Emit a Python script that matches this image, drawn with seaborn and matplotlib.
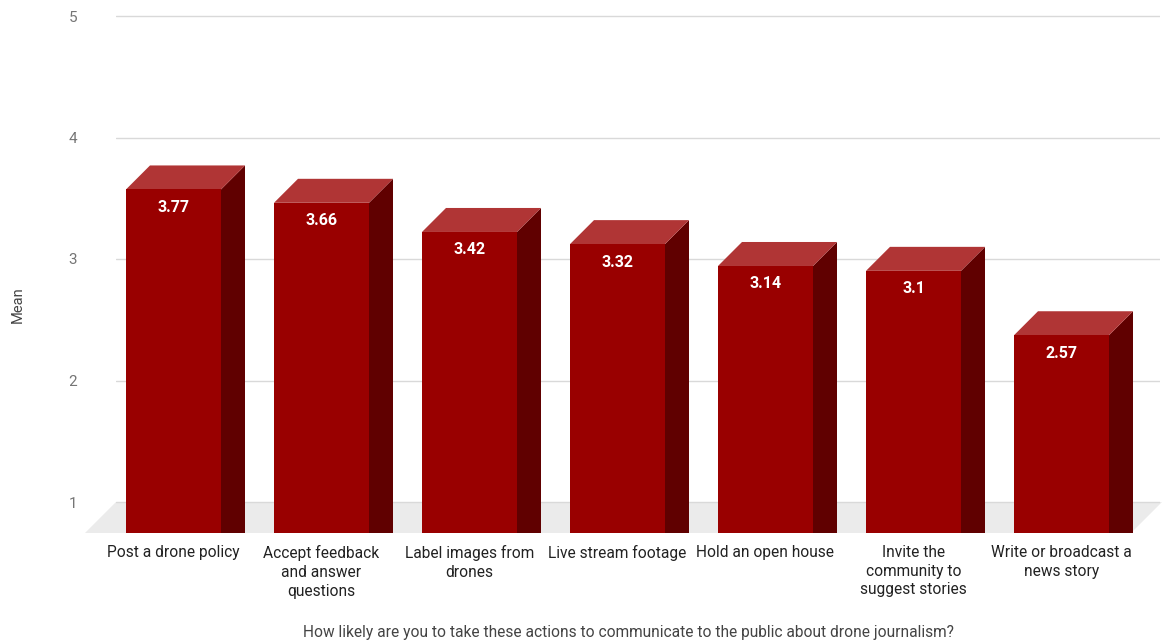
import matplotlib
matplotlib.use("Agg")
import matplotlib.pyplot as plt
from matplotlib.patches import Polygon
import seaborn as sns
import pandas as pd

# Survey results: mean likelihood of each communication action
actions = [
    "Post a drone policy",
    "Accept feedback\nand answer\nquestions",
    "Label images from\ndrones",
    "Live stream footage",
    "Hold an open house",
    "Invite the\ncommunity to\nsuggest stories",
    "Write or broadcast a\nnews story",
]
means = [3.77, 3.66, 3.42, 3.32, 3.14, 3.10, 2.57]
y_ticks = [1, 2, 3, 4, 5]

FRONT = "#990000"
SIDE = "#600000"
TOP = "#b03535"
FLOOR = "#ebebeb"
GRID = "#d9d9d9"

sns.set_theme(style="white")
plt.rcParams["font.family"] = ["Roboto", "DejaVu Sans"]

W, H = 1162, 640
fig = plt.figure(figsize=(W / 100, H / 100), dpi=100)

# axes spans the back plane of the pseudo-3D chart
px_per_cat = 148.0
px_per_unit = 121.5
ax_left_px, ax_right_px = 116, 1160
ax_top_px, ax_bottom_px = 10, 533
ax = fig.add_axes([ax_left_px / W, (H - ax_bottom_px) / H,
                   (ax_right_px - ax_left_px) / W, (ax_bottom_px - ax_top_px) / H])

# depth of the extrusion, in data units
depth_px = 24
dx = depth_px / px_per_cat
dy = depth_px / px_per_unit
floor_px = 31
fdx = floor_px / px_per_cat
fdy = floor_px / px_per_unit

x0 = -(173.5 - ax_left_px) / px_per_cat
x1 = x0 + (ax_right_px - ax_left_px) / px_per_cat
y_floor = 1 - fdy
y_top = 5 + (16 - ax_top_px) / px_per_unit

df = pd.DataFrame({"action": actions, "mean": [m - dy for m in means]})
bar_w = 95 / px_per_cat
sns.barplot(data=df, x="action", y="mean", color=FRONT, saturation=1,
            width=bar_w, ax=ax, zorder=4, linewidth=0)

ax.set_xlim(x0, x1)
ax.set_ylim(y_floor, y_top)

# floor of the 3D scene
floor = Polygon([(x0, 1), (x1 + 2 / px_per_cat, 1),
                 (x1 + 2 / px_per_cat - fdx, y_floor), (x0 - fdx, y_floor)],
                closed=True, facecolor=FLOOR, edgecolor="none",
                zorder=1, clip_on=False)
ax.add_patch(floor)

# extrude each front face: side and top faces, plus value label
for patch, v in zip(ax.containers[0], means):
    xl = patch.get_x()
    w = patch.get_width()
    xr = xl + w
    top_front = v - dy
    patch.set_y(y_floor)
    patch.set_height(top_front - y_floor)
    side = Polygon([(xr, y_floor), (xr, top_front), (xr + dx, v), (xr + dx, y_floor)],
                   closed=True, facecolor=SIDE, edgecolor="none", zorder=3, clip_on=False)
    top = Polygon([(xl, top_front), (xl + dx, v), (xr + dx, v), (xr, top_front)],
                  closed=True, facecolor=TOP, edgecolor="none", zorder=3, clip_on=False)
    ax.add_patch(side)
    ax.add_patch(top)
    ax.text(xl + w / 2, top_front - 18 / px_per_unit, f"{v:g}", ha="center", va="center",
            color="white", fontsize=11.5, fontweight="bold", zorder=5)

ax.set_yticks(y_ticks)
ax.set_yticklabels([str(t) for t in y_ticks])
ax.yaxis.grid(True, color=GRID, linewidth=1, zorder=2)
ax.set_axisbelow(False)
for line in ax.get_ygridlines():
    line.set_zorder(2)
ax.tick_params(axis="y", length=0, pad=28, labelsize=11, labelcolor="#757575")
ax.tick_params(axis="x", length=0, pad=8.5, labelsize=11.2, labelcolor="#222222")
for lab in ax.get_xticklabels():
    lab.set_linespacing(1.32)
    lab.set_multialignment("center")

for s in ax.spines.values():
    s.set_visible(False)

ax.set_xlabel("")
ax.set_ylabel("")
fig.text(628 / W, 1 - 632 / H,
         "How likely are you to take these actions to communicate to the public about drone journalism?",
         ha="center", va="center", fontsize=11.2, color="#444444")
fig.text(18 / W, 1 - 305 / H, "Mean", rotation=90, ha="center", va="center",
         fontsize=10.5, color="#444444")

fig.savefig("out.png", dpi=100, facecolor="white")
